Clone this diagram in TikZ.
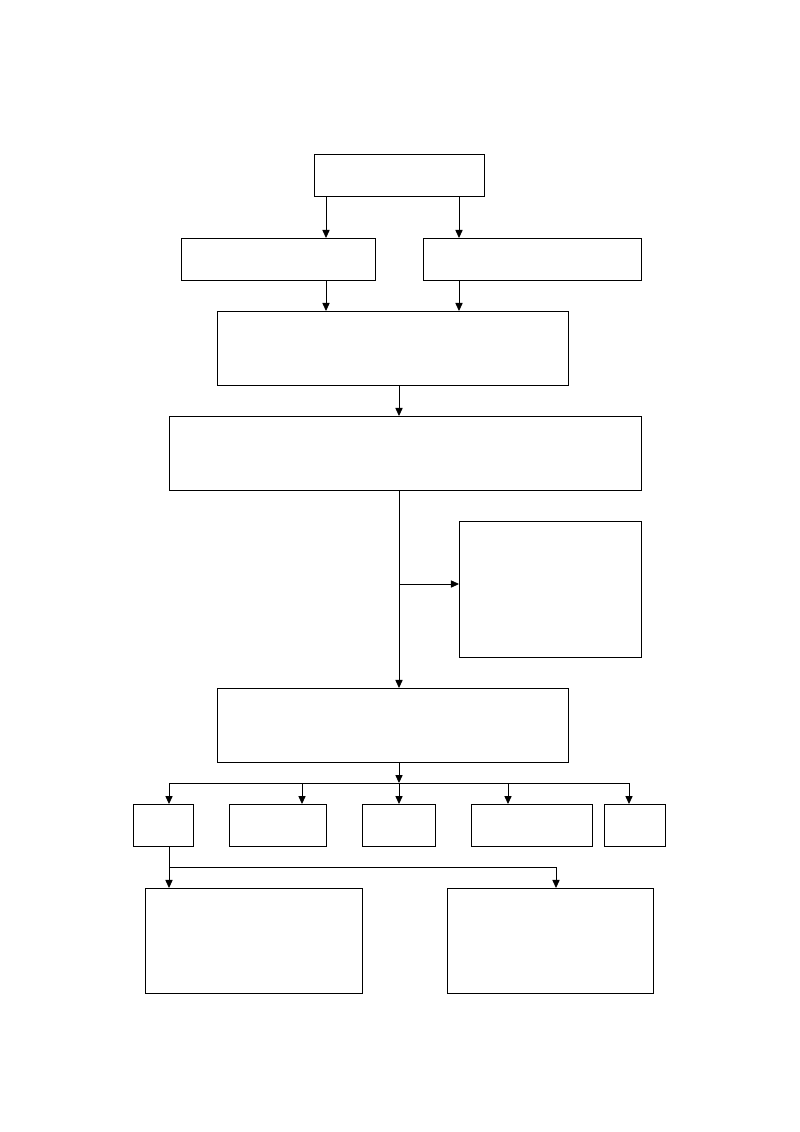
\documentclass[tikz,border=0pt]{standalone}
\usetikzlibrary{arrows.meta}
\begin{document}
\begin{tikzpicture}[x=0.025cm, y=-0.025cm]
\tikzset{boite/.style={draw, rectangle, inner sep=0pt, outer sep=0pt, line width=0.6pt},
fleche/.style={-{Triangle[length=2mm, width=1.8mm]}, line width=0.6pt},
trait/.style={line width=0.6pt}}
\useasboundingbox (0, 0) rectangle (800, 1132);
\node[boite, minimum width=4.25cm, minimum height=1.05cm] (H) at (399, 175) {};
\node[boite, minimum width=4.85cm, minimum height=1.05cm] (G) at (278, 259) {};
\node[boite, minimum width=5.45cm, minimum height=1.05cm] (D) at (532, 259) {};
\node[boite, minimum width=8.775cm, minimum height=1.85cm] (B3) at (392.5, 348) {};
\node[boite, minimum width=11.8cm, minimum height=1.85cm] (B4) at (405, 453) {};
\node[boite, minimum width=4.55cm, minimum height=3.4cm] (C) at (550, 589) {};
\node[boite, minimum width=8.775cm, minimum height=1.85cm] (B5) at (392.5, 725) {};
\node[boite, minimum width=1.5cm, minimum height=1.05cm] (S1) at (163, 825) {};
\node[boite, minimum width=2.425cm, minimum height=1.05cm] (S2) at (277.5, 825) {};
\node[boite, minimum width=1.825cm, minimum height=1.05cm] (S3) at (398.5, 825) {};
\node[boite, minimum width=3.025cm, minimum height=1.05cm] (S4) at (531.5, 825) {};
\node[boite, minimum width=1.525cm, minimum height=1.05cm] (S5) at (634.5, 825) {};
\node[boite, minimum width=5.425cm, minimum height=2.625cm] (F1) at (253.5, 940.5) {};
\node[boite, minimum width=5.15cm, minimum height=2.625cm] (F2) at (550, 940.5) {};
\coordinate (XA) at (326, 0);
\coordinate (XB) at (459, 0);
\coordinate (XC) at (399, 0);
\coordinate (J) at (399, 584);
\coordinate (P) at (399, 783);
\coordinate (Q) at (169, 867);
\draw[fleche] (XA |- H.south) -- (XA |- G.north);
\draw[fleche] (XB |- H.south) -- (XB |- D.north);
\draw[fleche] (XA |- G.south) -- (XA |- B3.north);
\draw[fleche] (XB |- D.south) -- (XB |- B3.north);
\draw[fleche] (XC |- B3.south) -- (XC |- B4.north);
\draw[fleche] (XC |- B4.south) -- (XC |- B5.north);
\draw[fleche] (J) -- (J -| C.west);
\draw[fleche] (XC |- B5.south) -- (P);
\draw[trait] (P -| 169, 0) -- (P -| 629, 0);
\foreach \n/\x in {S1/169, S2/302, S3/399, S4/508, S5/629}
  \draw[fleche] (P -| \x, 0) -- (\n.north -| \x, 0);
\draw[trait] (Q |- S1.south) -- (Q) -- (Q -| 556, 0);
\draw[fleche] (Q) -- (Q |- F1.north);
\draw[fleche] (Q -| 556, 0) -- (F2.north -| 556, 0);
\end{tikzpicture}
\end{document}
